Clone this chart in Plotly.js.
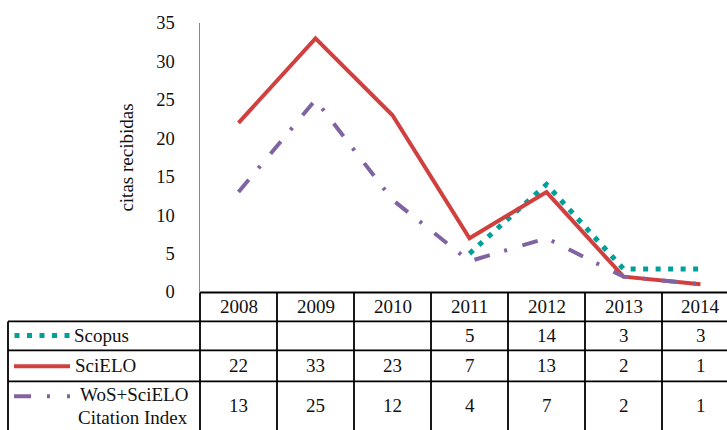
<!DOCTYPE html>
<html>
<head>
<meta charset="utf-8">
<script src="https://cdn.plot.ly/plotly-3.0.1.min.js"></script>
<style>html,body{margin:0;padding:0;background:#fff;}#chart{width:727px;height:430px;}</style>
</head>
<body>
<div id="chart"></div>
<script>
// ---- data ----
const years = ['2008', '2009', '2010', '2011', '2012', '2013', '2014'];
const scopus = [null, null, null, 5, 14, 3, 3];
const scielo = [22, 33, 23, 7, 13, 2, 1];
const wos = [13, 25, 12, 4, 7, 2, 1];
const seriesNames = ['Scopus', 'SciELO', 'WoS+SciELO', 'Citation Index'];
const yTicks = [0, 5, 10, 15, 20, 25, 30, 35];
const yTitle = 'citas recibidas';

// ---- geometry helpers ----
const W = 727, H = 430, L = 200, T = 23, B0 = 292.5;
const colW = 77;
const plotW = W - L;
const px = p => (p - L) / plotW;              // pixel x -> paper
const py = p => (B0 - p) / (B0 - T);          // pixel y -> paper

const FONT = 'Liberation Serif, Times New Roman, serif';
const RED = '#D0403F', PURPLE = '#8064A2', TEAL = '#00A09A';

const traces = [
  {x: years, y: scopus, name: seriesNames[0], mode: 'lines', connectgaps: false,
   line: {color: TEAL, width: 5, dash: '5px,7.5px'}},
  {x: years, y: scielo, name: seriesNames[1], mode: 'lines',
   line: {color: RED, width: 4}},
  {x: years, y: wos, name: seriesNames[2] + ' ' + seriesNames[3], mode: 'lines',
   line: {color: PURPLE, width: 4, dash: '16px,15px,3px,16px'}}
];

const shapes = [];
const annotations = [];
const lineW = 1.8;
function hline(x0, x1, y, xref) {
  shapes.push({type: 'line', xref: xref || 'paper', yref: 'paper', x0: x0, x1: x1, y0: py(y), y1: py(y),
    line: {color: '#000', width: lineW}});
}
function vline(x, y0, y1, xref) {
  shapes.push({type: 'line', xref: xref || 'paper', yref: 'paper', x0: x, x1: x, y0: py(y0), y1: py(y1),
    line: {color: '#000', width: lineW}});
}
// horizontal borders
hline(0, 1, 293);
hline(px(8), 1, 322);
hline(px(8), 1, 351);
hline(px(8), 1, 382);
// vertical borders
vline(px(8), 322, 440);
vline(0, 293, 440);
for (let i = 0; i < years.length - 1; i++) vline(i + 0.5, 293, 440, 'x');

// header + values
const rowY = [307.5, 336.5, 366.5, 406.5];
const tfont = {family: FONT, size: 19, color: '#111'};
years.forEach((yr, i) => {
  annotations.push({xref: 'x', yref: 'paper', x: i, y: py(rowY[0]), text: yr, showarrow: false,
    xanchor: 'center', yanchor: 'middle', font: tfont});
});
[scopus, scielo, wos].forEach((arr, r) => {
  arr.forEach((v, i) => {
    if (v === null) return;
    annotations.push({xref: 'x', yref: 'paper', x: i, y: py(rowY[r + 1]), text: String(v),
      showarrow: false, xanchor: 'center', yanchor: 'middle', font: tfont});
  });
});
// legend labels in the table
annotations.push({xref: 'paper', yref: 'paper', x: px(72), y: py(336), text: seriesNames[0], showarrow: false,
  xanchor: 'left', yanchor: 'middle', font: tfont});
annotations.push({xref: 'paper', yref: 'paper', x: px(73), y: py(366), text: seriesNames[1], showarrow: false,
  xanchor: 'left', yanchor: 'middle', font: tfont});
annotations.push({xref: 'paper', yref: 'paper', x: px(134), y: py(395), text: seriesNames[2], showarrow: false,
  xanchor: 'center', yanchor: 'middle', font: tfont});
annotations.push({xref: 'paper', yref: 'paper', x: px(133), y: py(418), text: seriesNames[3], showarrow: false,
  xanchor: 'center', yanchor: 'middle', font: tfont});
// legend keys
shapes.push({type: 'line', xref: 'paper', yref: 'paper', x0: px(14.5), x1: px(70), y0: py(336), y1: py(336),
  line: {color: TEAL, width: 5, dash: '5px,7.5px'}});
shapes.push({type: 'line', xref: 'paper', yref: 'paper', x0: px(14), x1: px(70), y0: py(367), y1: py(367),
  line: {color: RED, width: 4}});
shapes.push({type: 'line', xref: 'paper', yref: 'paper', x0: px(14), x1: px(71), y0: py(397), y1: py(397),
  line: {color: PURPLE, width: 4, dash: '17px,16px,3px,17px,3px,100px'}});

const layout = {
  width: W, height: H,
  margin: {l: L, r: 0, t: T, b: H - B0, pad: 0},
  paper_bgcolor: '#fff', plot_bgcolor: '#fff',
  showlegend: false,
  font: {family: FONT, color: '#111'},
  xaxis: {type: 'category', categoryorder: 'array', categoryarray: years,
    range: [-0.5, -0.5 + plotW / colW], showticklabels: false, showgrid: false,
    zeroline: false, showline: false, ticks: '', fixedrange: true},
  yaxis: {range: [0, 35], tickvals: yTicks, ticktext: yTicks.map(String), showgrid: false,
    zeroline: false, showline: true, linecolor: '#8a8a8a', linewidth: 1.5, ticks: '',
    ticklabelstandoff: 20, tickfont: {family: FONT, size: 18.5, color: '#111'},
    title: {text: yTitle, font: {family: FONT, size: 19, color: '#111'}, standoff: 17},
    automargin: false, fixedrange: true},
  shapes: shapes,
  annotations: annotations
};

Plotly.newPlot('chart', traces, layout, {displayModeBar: false, staticPlot: true});
</script>
</body>
</html>
